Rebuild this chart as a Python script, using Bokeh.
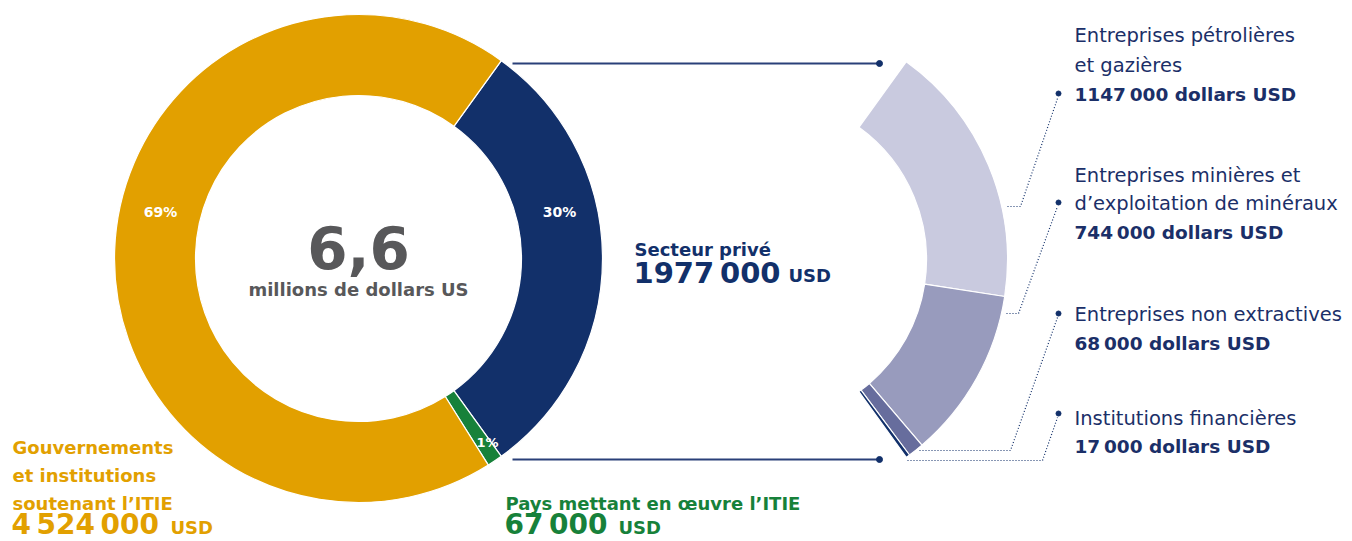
import math
from bokeh.plotting import figure
from bokeh.models import Label, Range1d, ColumnDataSource
from bokeh.embed import file_html
from bokeh.resources import INLINE

# ---------------- data ----------------
main_names = ["Secteur privé", "Pays mettant en œuvre l'ITIE", "Gouvernements et institutions soutenant l'ITIE"]
main_values = [1977000, 67000, 4524000]
main_pct_labels = ["30%", "1%", "69%"]
main_colors = ["#12306A", "#17813A", "#E2A000"]

sub_names = ["Entreprises pétrolières et gazières", "Entreprises minières et d'exploitation de minéraux",
             "Entreprises non extractives", "Institutions financières"]
sub_values = [1147000, 744000, 68000, 17000]
sub_colors = ["#C9CADF", "#989BBD", "#676D9D", "#12306A"]

total_label = "6,6"
total_unit = "millions de dollars US"

# ---------------- layout helpers ----------------
W, H = 1352, 541
FONT = "DejaVu Sans"
NAVY_TXT = "#1B2F68"


def X(px):
    return px


def Y(py):
    return H - py


p = figure(width=W, height=H, x_range=Range1d(0, W), y_range=Range1d(0, H),
           output_backend="svg", toolbar_location=None,
           x_axis_type=None, y_axis_type=None, min_border=0,
           outline_line_color=None)
p.xgrid.visible = False
p.ygrid.visible = False

R_OUT, R_IN = 244, 163
C1 = (358, 258)
C2 = (763, 259)


def wedges(values, start_cw, span_total):
    tot = float(sum(values))
    starts, ends = [], []
    a = start_cw
    for v in values:
        b = a + span_total * v / tot
        # bokeh angle: counter-clockwise from +x; cw-from-top theta -> 90 - theta
        starts.append(math.radians(90 - b))
        ends.append(math.radians(90 - a))
        a = b
    return starts, ends


# main donut: private sector centred on 3 o'clock
tot = float(sum(main_values))
navy_span = 360.0 * main_values[0] / tot
main_start = 90 - navy_span / 2
s1, e1 = wedges(main_values, main_start, 360.0)
src1 = ColumnDataSource(dict(x=[X(C1[0])] * 3, y=[Y(C1[1])] * 3, s=s1, e=e1, c=main_colors))
p.annular_wedge(x="x", y="y", inner_radius=R_IN, outer_radius=R_OUT, start_angle="s", end_angle="e",
                fill_color="c", line_color="white", line_width=1.2, source=src1)

# breakdown ring: same angular span as the private-sector slice
s2, e2 = wedges(sub_values, main_start, navy_span)
src2 = ColumnDataSource(dict(x=[X(C2[0])] * 4, y=[Y(C2[1])] * 4, s=s2, e=e2, c=sub_colors))
p.annular_wedge(x="x", y="y", inner_radius=R_IN, outer_radius=R_OUT, start_angle="s", end_angle="e",
                fill_color="c", line_color="white", line_width=1.2, source=src2)

# connector lines between slice and breakdown
for yy in (63, 459):
    p.line([X(512), X(879)], [Y(yy), Y(yy)], line_color="#2A4079", line_width=2)
    p.scatter([X(879)], [Y(yy)], size=6, color="#12306A")

# dotted leader lines
leaders = [
    [(1007, 206), (1020, 206), (1057, 98)],
    [(1006, 313), (1018, 313), (1057, 206)],
    [(919, 450), (1010, 450), (1057, 317)],
    [(907, 460), (1042, 460), (1057, 417)],
]
dots = [(1058, 93), (1058, 202), (1058, 313), (1058, 413)]
for pts in leaders:
    p.line([X(a) for a, b in pts], [Y(b) for a, b in pts], line_color="#12306A",
           line_width=1.2, line_dash="1 2")
p.scatter([X(a) for a, b in dots], [Y(b) for a, b in dots], size=5, color="#12306A")


def lab(text, px, py, size, color, bold=True, align="left"):
    # py is the vertical centre of the text in page pixels
    p.add_layout(Label(x=X(px), y=Y(py), text=text, text_font=FONT, text_font_size=f"{size}px",
                       text_font_style="bold" if bold else "normal", text_color=color,
                       text_align=align, text_baseline="middle"))


# centre
lab(total_label, 358, 247, 58, "#58585A", align="center")
lab(total_unit, 358, 289, 18, "#58585A", align="center")

# percentages
lab(main_pct_labels[2], 160, 211, 14, "white", align="center")
lab(main_pct_labels[0], 559, 211, 14, "white", align="center")
lab(main_pct_labels[1], 487, 442, 13, "white", align="center")

# gold label
GOLD = main_colors[2]
lab("Gouvernements", 12, 447, 18, GOLD)
lab("et institutions", 12, 475, 18, GOLD)
lab("soutenant l’ITIE", 12, 503, 18, GOLD)
lab("4\u2009524\u2009000", 11, 524, 28, GOLD)
lab("USD", 170, 527, 18, GOLD)

# green label
GREEN = main_colors[1]
lab("Pays mettant en œuvre l’ITIE", 505, 503, 18, GREEN)
lab("67\u2009000", 504, 524, 28, GREEN)
lab("USD", 618, 527, 18, GREEN)

# private sector label
NAVY = main_colors[0]
lab("Secteur privé", 634, 249, 18, NAVY)
lab("1977\u2009000", 633, 272, 29, NAVY)
lab("USD", 788, 275, 18, NAVY)

# breakdown labels
RS, BS = 19.5, 18.5
lab("Entreprises pétrolières", 1074, 35, RS, NAVY_TXT, bold=False)
lab("et gazières", 1074, 65, RS, NAVY_TXT, bold=False)
lab("1147\u2009000 dollars USD", 1074, 94, BS, NAVY_TXT)
lab("Entreprises minières et", 1074, 175, RS, NAVY_TXT, bold=False)
lab("d’exploitation de minéraux", 1074, 203, RS, NAVY_TXT, bold=False)
lab("744\u2009000 dollars USD", 1074, 232, BS, NAVY_TXT)
lab("Entreprises non extractives", 1074, 314, RS, NAVY_TXT, bold=False)
lab("68\u2009000 dollars USD", 1074, 343, BS, NAVY_TXT)
lab("Institutions financières", 1074, 418, RS, NAVY_TXT, bold=False)
lab("17\u2009000 dollars USD", 1074, 446, BS, NAVY_TXT)

open("out.html", "w").write(file_html(p, INLINE))
